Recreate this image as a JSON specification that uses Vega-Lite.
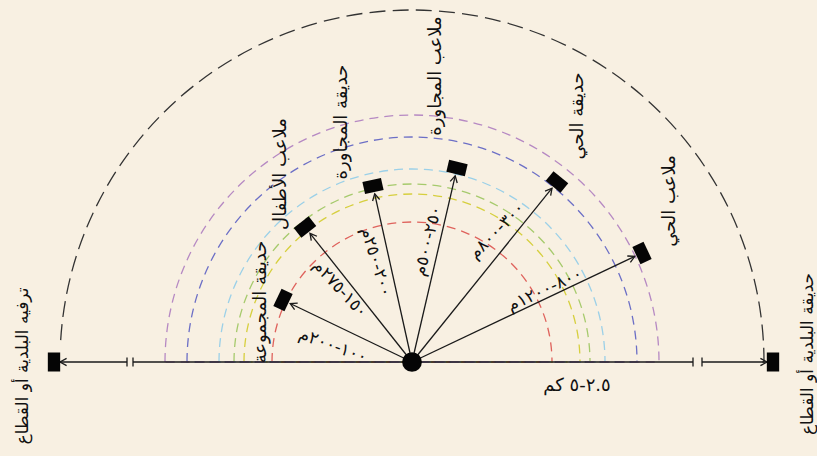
{
  "$schema": "https://vega.github.io/schema/vega-lite/v6.json",
  "width": 817,
  "height": 456,
  "padding": 0,
  "autosize": {"type": "none"},
  "background": "#f8f0e2",
  "config": {"view": {"stroke": null}, "font": "DejaVu Sans"},
  "layer": [
    {
      "data": {"values": [
        {"ring": "a", "cx": 0, "cy": 0, "r": 140, "t0": -90, "t1": 90},
        {"ring": "b", "cx": 0, "cy": 0, "r": 168, "t0": -90, "t1": 90},
        {"ring": "c", "cx": 0, "cy": 0, "r": 178, "t0": -90, "t1": 90},
        {"ring": "d", "cx": 0, "cy": 0, "r": 193, "t0": -90, "t1": 90},
        {"ring": "e", "cx": 0, "cy": 0, "r": 225, "t0": -90, "t1": 90},
        {"ring": "f", "cx": 0, "cy": 0, "r": 247, "t0": -90, "t1": 90}
      ]},
      "mark": {"type": "arc", "filled": false, "strokeWidth": 1.3, "strokeDash": [9, 6]},
      "encoding": {
        "x": {"field": "cx", "type": "quantitative", "scale": {"domain": [-412, 405], "nice": false, "zero": false}, "axis": null},
        "y": {"field": "cy", "type": "quantitative", "scale": {"domain": [-94, 362], "nice": false, "zero": false}, "axis": null},
        "theta": {"field": "t0", "type": "quantitative", "scale": {"domain": [-90, 90], "range": [-1.5707963, 1.5707963]}},
        "theta2": {"field": "t1"},
        "radius": {"field": "r", "type": "quantitative", "scale": {"type": "linear", "domain": [0, 400], "range": [0, 400], "zero": true}},
        "stroke": {"field": "ring", "type": "nominal", "legend": null, "scale": {"domain": ["a", "b", "c", "d", "e", "f"], "range": ["#df625c", "#d6cf3e", "#a6ca6c", "#9bd0e8", "#6c6fc6", "#b689c3"]}}
      }
    },
    {
      "data": {"values": [{"cx": 0, "cy": 0, "r": 352, "t0": -90, "t1": 90}]},
      "mark": {"type": "arc", "filled": false, "stroke": "#333333", "strokeWidth": 1.3,
        "strokeDash": [0, 22, 16, 7.24, 16, 7.24, 16, 7.24, 16, 7.24, 16, 7.24, 16, 7.24, 16, 7.24, 16, 7.24, 16, 7.24, 16, 7.24, 16, 7.24, 16, 7.24, 16, 7.24, 16, 7.24, 16, 7.24, 16, 7.24, 16, 7.24, 16, 7.24, 16, 7.24, 16, 7.24, 16, 7.24, 16, 7.24, 16, 7.24, 16, 7.24, 16, 7.24, 16, 7.24, 16, 7.24, 16, 7.24, 16, 7.24, 16, 7.24, 16, 7.24, 16, 7.24, 16, 7.24, 16, 7.24, 16, 7.24, 16, 7.24, 16, 7.24, 16, 7.24, 16, 7.24, 16, 7.24, 16, 7.24, 16, 7.24, 16, 7.24, 16, 7.24, 16, 7.24, 16, 7.24, 16, 736]},
      "encoding": {
        "x": {"field": "cx", "type": "quantitative", "scale": {"domain": [-412, 405], "nice": false, "zero": false}, "axis": null},
        "y": {"field": "cy", "type": "quantitative", "scale": {"domain": [-94, 362], "nice": false, "zero": false}, "axis": null},
        "theta": {"field": "t0", "type": "quantitative", "scale": {"domain": [-90, 90], "range": [-1.5707963, 1.5707963]}},
        "theta2": {"field": "t1"},
        "radius": {"field": "r", "type": "quantitative", "scale": {"type": "linear", "domain": [0, 400], "range": [0, 400], "zero": true}}
      }
    },
    {
      "data": {"values": [
        {"x0": 0, "y0": 0, "x": -121.8, "y": 58.5},
        {"x0": 0, "y0": 0, "x": -102.0, "y": 128.7},
        {"x0": 0, "y0": 0, "x": -37.3, "y": 168.2},
        {"x0": 0, "y0": 0, "x": 43.2, "y": 186.2},
        {"x0": 0, "y0": 0, "x": 140.0, "y": 173.8},
        {"x0": 0, "y0": 0, "x": 222.8, "y": 105.6}
      ]},
      "mark": {"type": "rule", "color": "#1a1a1a", "strokeWidth": 1.3},
      "encoding": {
        "x": {"field": "x0", "type": "quantitative", "scale": {"domain": [-412, 405], "nice": false, "zero": false}, "axis": null},
        "y": {"field": "y0", "type": "quantitative", "scale": {"domain": [-94, 362], "nice": false, "zero": false}, "axis": null},
        "x2": {"field": "x"},
        "y2": {"field": "y"}
      }
    },
    {
      "data": {"values": [
        {"a": -352, "b": -285, "y": 0},
        {"a": -279, "b": 281, "y": 0},
        {"a": 290, "b": 355, "y": 0}
      ]},
      "mark": {"type": "rule", "color": "#1a1a1a", "strokeWidth": 1.6},
      "encoding": {
        "x": {"field": "a", "type": "quantitative", "scale": {"domain": [-412, 405], "nice": false, "zero": false}, "axis": null},
        "x2": {"field": "b"},
        "y": {"field": "y", "type": "quantitative", "scale": {"domain": [-94, 362], "nice": false, "zero": false}, "axis": null}
      }
    },
    {
      "data": {"values": [
        {"x": -285, "lo": -4.5, "hi": 4.5},
        {"x": -279, "lo": -4.5, "hi": 4.5},
        {"x": 281, "lo": -4.5, "hi": 4.5},
        {"x": 290, "lo": -4.5, "hi": 4.5}
      ]},
      "mark": {"type": "rule", "color": "#1a1a1a", "strokeWidth": 1.3},
      "encoding": {
        "x": {"field": "x", "type": "quantitative", "scale": {"domain": [-412, 405], "nice": false, "zero": false}, "axis": null},
        "y": {"field": "lo", "type": "quantitative", "scale": {"domain": [-94, 362], "nice": false, "zero": false}, "axis": null},
        "y2": {"field": "hi"}
      }
    },
    {
      "data": {"values": [
        {"x": -121.8, "y": 58.5, "deg": 154.3},
        {"x": -102.0, "y": 128.7, "deg": 128.4},
        {"x": -37.3, "y": 168.2, "deg": 102.5},
        {"x": 43.2, "y": 186.2, "deg": 76.9},
        {"x": 140.0, "y": 173.8, "deg": 51.1},
        {"x": 222.8, "y": 105.6, "deg": 25.4},
        {"x": -352, "y": 0, "deg": 180},
        {"x": 355, "y": 0, "deg": 0}
      ]},
      "mark": {"type": "point", "shape": "M -0.6 1.1 L 0 0 L 0.6 1.1", "size": 144, "filled": false, "stroke": "#1a1a1a", "strokeWidth": 1.3, "opacity": 1},
      "encoding": {
        "x": {"field": "x", "type": "quantitative", "scale": {"domain": [-412, 405], "nice": false, "zero": false}, "axis": null},
        "y": {"field": "y", "type": "quantitative", "scale": {"domain": [-94, 362], "nice": false, "zero": false}, "axis": null},
        "angle": {"field": "deg", "type": "quantitative", "scale": {"domain": [0, 180], "range": [90, -90]}, "legend": null}
      }
    },
    {
      "data": {"values": [
        {"x": -129, "y": 62, "deg": 154.3},
        {"x": -107, "y": 135, "deg": 128.4},
        {"x": -39, "y": 176, "deg": 102.5},
        {"x": 45, "y": 194, "deg": 76.9},
        {"x": 145, "y": 180, "deg": 51.1},
        {"x": 230, "y": 109, "deg": 25.4},
        {"x": -358, "y": 0, "deg": 180},
        {"x": 361, "y": 0, "deg": 0}
      ]},
      "mark": {"type": "point", "shape": "M -1 -0.65 L 1 -0.65 L 1 0.65 L -1 0.65 Z", "size": 361, "filled": true, "color": "#050505", "opacity": 1},
      "encoding": {
        "x": {"field": "x", "type": "quantitative", "scale": {"domain": [-412, 405], "nice": false, "zero": false}, "axis": null},
        "y": {"field": "y", "type": "quantitative", "scale": {"domain": [-94, 362], "nice": false, "zero": false}, "axis": null},
        "angle": {"field": "deg", "type": "quantitative", "scale": {"domain": [0, 180], "range": [90, -90]}, "legend": null}
      }
    },
    {
      "data": {"values": [{"x": 0, "y": 0}]},
      "mark": {"type": "point", "shape": "circle", "size": 390, "filled": true, "color": "#050505", "opacity": 1},
      "encoding": {
        "x": {"field": "x", "type": "quantitative", "scale": {"domain": [-412, 405], "nice": false, "zero": false}, "axis": null},
        "y": {"field": "y", "type": "quantitative", "scale": {"domain": [-94, 362], "nice": false, "zero": false}, "axis": null}
      }
    },
    {
      "data": {"values": [
        {"label": "حديقة المجموعة", "x": -151, "y": 60},
        {"label": "ملاعب الأطفال", "x": -131, "y": 188},
        {"label": "حديقة المجاورة", "x": -70, "y": 240},
        {"label": "ملاعب المجاورة", "x": 24, "y": 286},
        {"label": "حديقة الحي", "x": 166, "y": 246},
        {"label": "ملاعب الحي", "x": 258, "y": 161}
      ]},
      "mark": {"type": "text", "angle": 270, "fontSize": 18, "align": "center", "baseline": "middle", "color": "#111111"},
      "encoding": {
        "x": {"field": "x", "type": "quantitative", "scale": {"domain": [-412, 405], "nice": false, "zero": false}, "axis": null},
        "y": {"field": "y", "type": "quantitative", "scale": {"domain": [-94, 362], "nice": false, "zero": false}, "axis": null},
        "text": {"field": "label"}
      }
    },
    {
      "data": {"values": [
        {"label": "ترفيه البلدية أو القطاع", "x": -389, "y": -4},
        {"label": "حديقة البلدية أو القطاع", "x": 396, "y": 8}
      ]},
      "mark": {"type": "text", "angle": 270, "fontSize": 17, "align": "center", "baseline": "middle", "color": "#111111"},
      "encoding": {
        "x": {"field": "x", "type": "quantitative", "scale": {"domain": [-412, 405], "nice": false, "zero": false}, "axis": null},
        "y": {"field": "y", "type": "quantitative", "scale": {"domain": [-94, 362], "nice": false, "zero": false}, "axis": null},
        "text": {"field": "label"}
      }
    },
    {
      "data": {"values": [{"label": "١٠٠-٢٠٠م", "x": -79, "y": 16}]},
      "mark": {"type": "text", "angle": 20, "fontSize": 17, "align": "center", "baseline": "middle", "color": "#111111"},
      "encoding": {
        "x": {"field": "x", "type": "quantitative", "scale": {"domain": [-412, 405], "nice": false, "zero": false}, "axis": null},
        "y": {"field": "y", "type": "quantitative", "scale": {"domain": [-94, 362], "nice": false, "zero": false}, "axis": null},
        "text": {"field": "label"}
      }
    },
    {
      "data": {"values": [{"label": "١٥٠-٢٧٥م", "x": -72, "y": 73}]},
      "mark": {"type": "text", "angle": 47, "fontSize": 17, "align": "center", "baseline": "middle", "color": "#111111"},
      "encoding": {
        "x": {"field": "x", "type": "quantitative", "scale": {"domain": [-412, 405], "nice": false, "zero": false}, "axis": null},
        "y": {"field": "y", "type": "quantitative", "scale": {"domain": [-94, 362], "nice": false, "zero": false}, "axis": null},
        "text": {"field": "label"}
      }
    },
    {
      "data": {"values": [{"label": "٢٠٠-٢٥٠م", "x": -36, "y": 100}]},
      "mark": {"type": "text", "angle": 73, "fontSize": 17, "align": "center", "baseline": "middle", "color": "#111111"},
      "encoding": {
        "x": {"field": "x", "type": "quantitative", "scale": {"domain": [-412, 405], "nice": false, "zero": false}, "axis": null},
        "y": {"field": "y", "type": "quantitative", "scale": {"domain": [-94, 362], "nice": false, "zero": false}, "axis": null},
        "text": {"field": "label"}
      }
    },
    {
      "data": {"values": [{"label": "٢٥٠-٥٠٠م", "x": 16, "y": 121}]},
      "mark": {"type": "text", "angle": -76, "fontSize": 17, "align": "center", "baseline": "middle", "color": "#111111"},
      "encoding": {
        "x": {"field": "x", "type": "quantitative", "scale": {"domain": [-412, 405], "nice": false, "zero": false}, "axis": null},
        "y": {"field": "y", "type": "quantitative", "scale": {"domain": [-94, 362], "nice": false, "zero": false}, "axis": null},
        "text": {"field": "label"}
      }
    },
    {
      "data": {"values": [{"label": "٣٠٠-٨٠٠م", "x": 85, "y": 131}]},
      "mark": {"type": "text", "angle": -46, "fontSize": 17, "align": "center", "baseline": "middle", "color": "#111111"},
      "encoding": {
        "x": {"field": "x", "type": "quantitative", "scale": {"domain": [-412, 405], "nice": false, "zero": false}, "axis": null},
        "y": {"field": "y", "type": "quantitative", "scale": {"domain": [-94, 362], "nice": false, "zero": false}, "axis": null},
        "text": {"field": "label"}
      }
    },
    {
      "data": {"values": [{"label": "٨٠٠-١٢٠٠م", "x": 133, "y": 72}]},
      "mark": {"type": "text", "angle": -25, "fontSize": 17, "align": "center", "baseline": "middle", "color": "#111111"},
      "encoding": {
        "x": {"field": "x", "type": "quantitative", "scale": {"domain": [-412, 405], "nice": false, "zero": false}, "axis": null},
        "y": {"field": "y", "type": "quantitative", "scale": {"domain": [-94, 362], "nice": false, "zero": false}, "axis": null},
        "text": {"field": "label"}
      }
    },
    {
      "data": {"values": [{"label": "٢.٥-٥ كم", "x": 165, "y": -24}]},
      "mark": {"type": "text", "angle": 0, "fontSize": 18, "align": "center", "baseline": "middle", "color": "#111111"},
      "encoding": {
        "x": {"field": "x", "type": "quantitative", "scale": {"domain": [-412, 405], "nice": false, "zero": false}, "axis": null},
        "y": {"field": "y", "type": "quantitative", "scale": {"domain": [-94, 362], "nice": false, "zero": false}, "axis": null},
        "text": {"field": "label"}
      }
    }
  ]
}
